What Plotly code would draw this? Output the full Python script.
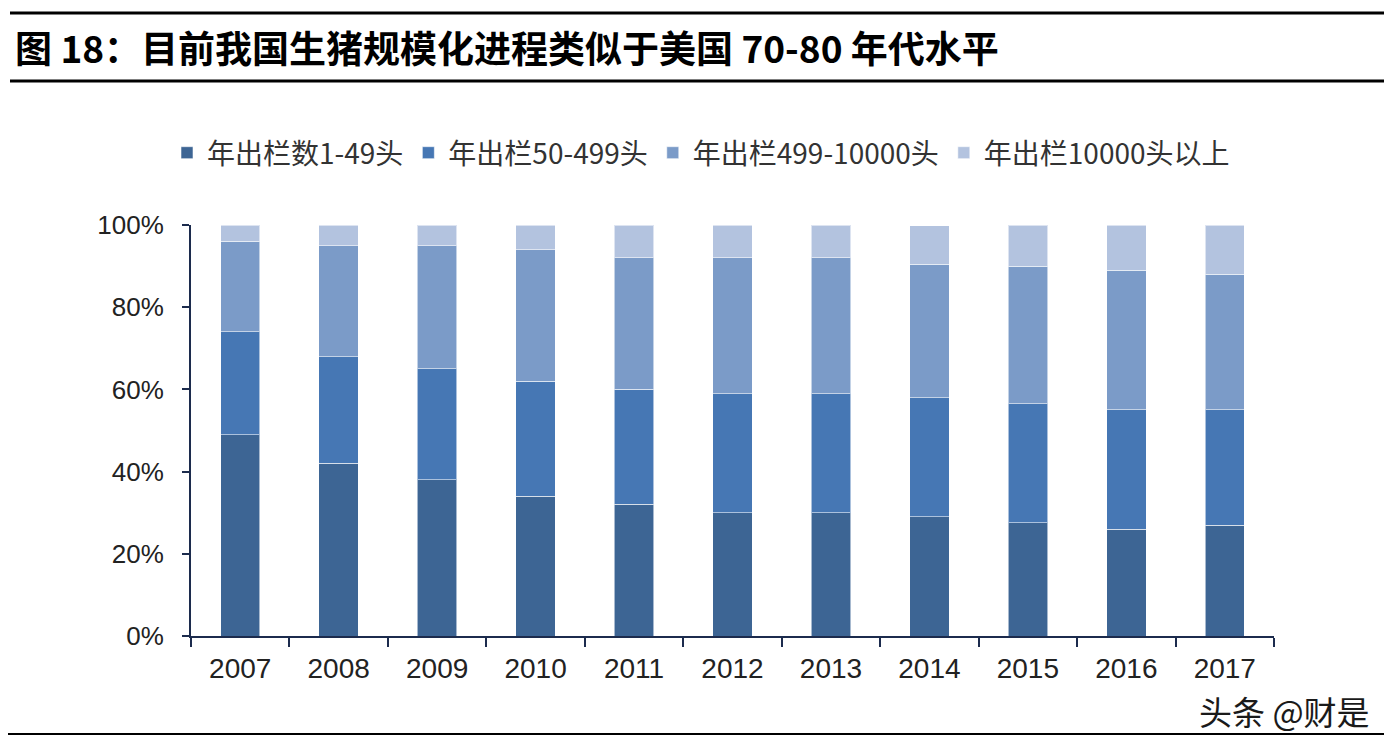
import plotly.graph_objects as go

years = ["2007", "2008", "2009", "2010", "2011", "2012", "2013", "2014", "2015", "2016", "2017"]
s1 = [49, 42, 38, 34, 32, 30, 30, 29, 27.5, 26, 27]
s2 = [25, 26, 27, 28, 28, 29, 29, 29, 29, 29, 28]
s3 = [22, 27, 30, 32, 32, 33, 33, 32.5, 33.5, 34, 33]
s4 = [4, 5, 5, 6, 8, 8, 8, 9.3, 10, 11, 12]
names = ["年出栏数1-49头", "年出栏50-499头", "年出栏499-10000头", "年出栏10000头以上"]
colors = ["#3d6594", "#4677b4", "#7b9bc8", "#b3c3df"]

# page has an 8px body margin; work in screenshot pixels and shift
OFF = 8
W, H = 1392 - OFF, 748 - OFF
L, R, T, B = 191, 1274, 225, 636  # screenshot pixel positions of plot area

def px(x):
    return (x - L) / (R - L)

def py(y):
    return (B - y) / (B - T)

fig = go.Figure()
for name, vals, c in zip(names, [s1, s2, s3, s4], colors):
    fig.add_trace(go.Bar(x=years, y=vals, name=name,
                         marker=dict(color=c, line=dict(color="rgba(255,255,255,0.55)", width=1))))

axis_col = "#1c2b4d"
fig.update_layout(
    width=W, height=H, barmode="stack", bargap=0.6,
    paper_bgcolor="white", plot_bgcolor="white",
    margin=dict(l=L - OFF, r=(W + OFF) - R, t=T - OFF, b=(H + OFF) - B, autoexpand=False),
    font=dict(family="Liberation Sans, Arial, Noto Sans CJK SC", color="#222222"),
    legend=dict(orientation="h", x=px(701), y=py(153), xanchor="center", yanchor="middle",
                font=dict(size=28, family="Noto Sans CJK SC", color="#333333"),
                itemwidth=30, traceorder="normal", bgcolor="rgba(0,0,0,0)"),
    xaxis=dict(type="category", showline=True, linecolor=axis_col, linewidth=2,
               ticks="outside", tickson="boundaries", ticklen=9, tickcolor=axis_col, tickwidth=2,
               tickfont=dict(size=28, color="#222222"), showgrid=False, ticklabelstandoff=6),
    yaxis=dict(range=[0, 100], tickvals=[0, 20, 40, 60, 80, 100],
               ticktext=["0%", "20%", "40%", "60%", "80%", "100%"],
               showline=True, linecolor=axis_col, linewidth=2,
               ticks="outside", ticklen=7, tickcolor=axis_col, tickwidth=2,
               tickfont=dict(size=26, color="#222222"), showgrid=False, zeroline=False,
               ticklabelstandoff=13),
    showlegend=True,
)

# title
fig.add_annotation(text="<b>图 18：目前我国生猪规模化进程类似于美国 70-80 年代水平</b>",
                   xref="paper", yref="paper", x=px(13), y=py(47), xanchor="left", yanchor="middle",
                   showarrow=False, font=dict(size=37, family="Noto Sans CJK SC", color="#000000"))
# watermark
fig.add_annotation(text="头条 @财是", xref="paper", yref="paper", x=px(1372), y=py(711),
                   xanchor="right", yanchor="middle", showarrow=False,
                   font=dict(size=33, family="Noto Sans CJK SC", color="#1a1a1a"))

# rules
for (x0, x1, y, w) in [(10, 1392, 13, 3), (10, 1392, 81, 3), (5, 1390, 734, 2)]:
    fig.add_shape(type="line", xref="paper", yref="paper", x0=px(x0), x1=px(x1), y0=py(y), y1=py(y),
                  line=dict(color="#000000", width=w))

fig.write_html("out.html")
